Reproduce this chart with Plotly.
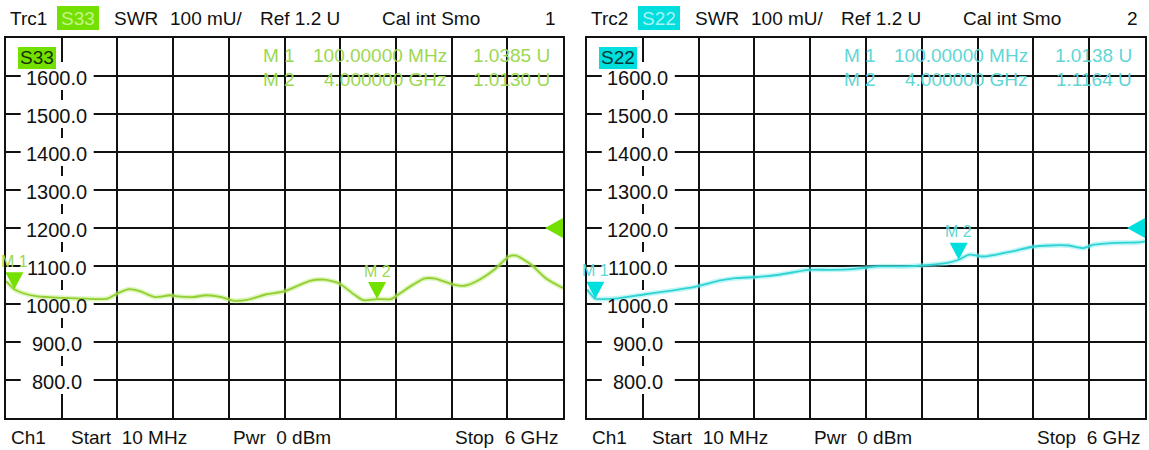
import plotly.graph_objects as go

# ---------------- data ----------------
freq_s33 = [10, 100, 188, 347, 624, 862, 1099, 1218, 1337, 1456, 1614, 1773, 1852, 2010,
            2169, 2327, 2446, 2605, 2803, 3001, 3120, 3278, 3437, 3595, 3754, 3853, 4000,
            4150, 4229, 4388, 4506, 4625, 4823, 4942, 5101, 5259, 5418, 5497, 5656, 5814, 6000]
swr_s33 = [1060, 1038.5, 1029, 1020, 1016, 1014, 1014, 1029, 1039, 1033, 1018, 1023, 1020, 1018,
           1023, 1018, 1009, 1011, 1025, 1033, 1045, 1061, 1064, 1054, 1025, 1010, 1013,
           1013, 1025, 1051, 1067, 1067, 1051, 1048, 1064, 1090, 1125, 1127, 1104, 1068, 1042]

freq_s22 = [10, 100, 187, 344, 619, 855, 1169, 1444, 1601, 1837, 2072, 2386, 2622, 2858, 3015,
            3133, 3408, 3643, 3879, 4000, 4114, 4271, 4586, 4782, 4979, 5175, 5332, 5450,
            5686, 5921, 6000]
swr_s22 = [1038, 1013.8, 1013, 1015, 1025, 1033, 1045, 1062, 1068, 1071, 1077, 1090, 1090, 1092,
           1096, 1099, 1099, 1102, 1108, 1116.4, 1130, 1125, 1139, 1150, 1154, 1154, 1147, 1156,
           1161, 1162, 1165]

marker_freqs = [100, 4000]
marker_names = ["M 1", "M 2"]
s33_marker_vals = [1038.5, 1013.0]
s22_marker_vals = [1013.8, 1116.4]
s33_readout = [["M 1", "100.00000 MHz", "1.0385 U"], ["M 2", "4.000000 GHz", "1.0130 U"]]
s22_readout = [["M 1", "100.00000 MHz", "1.0138 U"], ["M 2", "4.000000 GHz", "1.1164 U"]]
ref_level = 1200
y_tick_vals = [1600, 1500, 1400, 1300, 1200, 1100, 1000, 900, 800]
y_tick_labels = ["%.1f" % v for v in y_tick_vals]
x_start, x_stop = 10, 6000
y_min, y_max = 700, 1700
x_divs = 10

W, H = 1149, 450
FONT = "Liberation Sans, Arial, sans-serif"
FS = 19
FS_TICK = 20

def px(x):
    return x / W

def py(y):
    return 1 - y / H

panels = [
    dict(name="S33", trc="Trc1", num="1", left=6, right=563, xa="x", ya="y",
         freq=freq_s33, swr=swr_s33, mvals=s33_marker_vals, readout=s33_readout,
         core="#93cf30", halo="rgba(180,235,110,0.45)", mark="#74e000",
         txt="#9bd852", boxtxt="#c4f58a", intxt="#173000"),
    dict(name="S22", trc="Trc2", num="2", left=587, right=1145, xa="x2", ya="y2",
         freq=freq_s22, swr=swr_s22, mvals=s22_marker_vals, readout=s22_readout,
         core="#2fd3d3", halo="rgba(120,235,235,0.45)", mark="#00dede",
         txt="#5fd6d6", boxtxt="#a8f4f4", intxt="#003838"),
]

fig = go.Figure()
shapes = []
annots = []

x_step = (x_stop - x_start) / x_divs
x_grid = [x_start + k * x_step for k in range(x_divs + 1)]
axis_x = x_grid[1]


def txt(x, y, text, color="#111", size=FS, xanchor="left"):
    return dict(x=px(x), y=py(y), xref="paper", yref="paper", text=text, xanchor=xanchor,
                yanchor="middle", showarrow=False, font=dict(family=FONT, size=size, color=color))


for p in panels:
    fig.add_trace(go.Scatter(x=p["freq"], y=p["swr"], xaxis=p["xa"], yaxis=p["ya"],
                             mode="lines", line=dict(color=p["halo"], width=5, shape="spline", smoothing=0.6),
                             hoverinfo="skip", showlegend=False))
    fig.add_trace(go.Scatter(x=p["freq"], y=p["swr"], xaxis=p["xa"], yaxis=p["ya"],
                             mode="lines", line=dict(color=p["core"], width=1.8, shape="spline", smoothing=0.6),
                             showlegend=False))
    L, R = p["left"], p["right"]

    # y-axis labels with white boxes over grid
    for v, lab in zip(y_tick_vals, y_tick_labels):
        shapes.append(dict(type="rect", xref=p["xa"], yref=p["ya"], xsizemode="pixel", ysizemode="pixel",
                           xanchor=axis_x, yanchor=v, x0=-41, x1=32, y0=-14, y1=14,
                           fillcolor="white", line=dict(width=0), layer="between"))
        annots.append(dict(x=axis_x, y=v, xref=p["xa"], yref=p["ya"], text=lab, showarrow=False,
                           xanchor="center", yanchor="middle",
                           xshift=-5, yshift=-2, font=dict(family=FONT, size=FS_TICK, color="#111")))

    # marker triangles and labels
    for f, v, nm in zip(marker_freqs, p["mvals"], marker_names):
        shapes.append(dict(type="path", xref=p["xa"], yref=p["ya"], xsizemode="pixel", ysizemode="pixel",
                           xanchor=f, yanchor=v, path="M -9,17 L 9,17 L 0,0 Z",
                           fillcolor=p["mark"], line=dict(width=0), layer="above"))
        annots.append(dict(x=f, y=v, xref=p["xa"], yref=p["ya"], text=nm, showarrow=False,
                           xanchor="center", yanchor="middle",
                           yshift=28, font=dict(family=FONT, size=16, color=p["txt"])))
    # reference level triangle
    shapes.append(dict(type="path", xref=p["xa"], yref=p["ya"], xsizemode="pixel", ysizemode="pixel",
                       xanchor=x_stop, yanchor=ref_level, path="M 0,10 L 0,-10 L -18,0 Z",
                       fillcolor=p["mark"], line=dict(width=0), layer="above"))

    # header
    hy = 18
    annots.append(txt(L + 2, hy, p["trc"]))
    shapes.append(dict(type="rect", xref="paper", yref="paper", x0=px(L + 51), x1=px(L + 93),
                       y0=py(30), y1=py(6), fillcolor=p["mark"], line=dict(width=0)))
    annots.append(txt(L + 72, hy, p["name"], color=p["boxtxt"], xanchor="center"))
    for t, off in [("SWR", 106), ("100 mU/", 162), ("Ref 1.2 U", 252), ("Cal int Smo", 374)]:
        annots.append(txt(L + off, hy, t))
    annots.append(txt(R - 5, hy, p["num"], xanchor="right"))

    # footer
    fy = 437
    for t, off in [("Ch1", 3), ("Start  10 MHz", 63), ("Pwr  0 dBm", 225)]:
        annots.append(txt(L + off, fy, t))
    annots.append(txt(R - 2, fy, "Stop  6 GHz", xanchor="right"))

    # in-plot trace label
    shapes.append(dict(type="rect", xref="paper", yref="paper", x0=px(L + 12), x1=px(L + 50),
                       y0=py(69), y1=py(47), fillcolor=p["mark"], line=dict(width=0), layer="above"))
    annots.append(txt(L + 31, 58, p["name"], color=p["intxt"], xanchor="center"))

    # marker readout
    for row, yy in zip(p["readout"], [55, 79]):
        annots.append(txt(L + 255, yy, row[0], color=p["txt"]))
        annots.append(txt(L + 443, yy, row[1], color=p["txt"], xanchor="right"))
        annots.append(txt(R - 11, yy, row[2], color=p["txt"], xanchor="right"))

ax_common = dict(showgrid=True, gridcolor="#111", gridwidth=1.5, showticklabels=False, ticks="",
                 zeroline=False, showline=True, mirror=True, linecolor="#111", linewidth=1.5, fixedrange=True)
ydom = [(H - 418) / H, (H - 38) / H]
fig.update_layout(
    width=W, height=H, margin=dict(l=0, r=0, t=0, b=0),
    paper_bgcolor="white", plot_bgcolor="white", showlegend=False,
    xaxis=dict(domain=[px(6), px(563)], range=[x_start, x_stop], tickvals=x_grid, anchor="y", **ax_common),
    yaxis=dict(domain=ydom, range=[y_min, y_max], tick0=y_min, dtick=100, anchor="x", **ax_common),
    xaxis2=dict(domain=[px(587), px(1145)], range=[x_start, x_stop], tickvals=x_grid, anchor="y2", **ax_common),
    yaxis2=dict(domain=ydom, range=[y_min, y_max], tick0=y_min, dtick=100, anchor="x2", **ax_common),
    shapes=shapes, annotations=annots,
)

fig.write_html("out.html", config={"displayModeBar": False},
               post_script="document.body.style.margin='0';document.body.style.overflow='hidden';")
